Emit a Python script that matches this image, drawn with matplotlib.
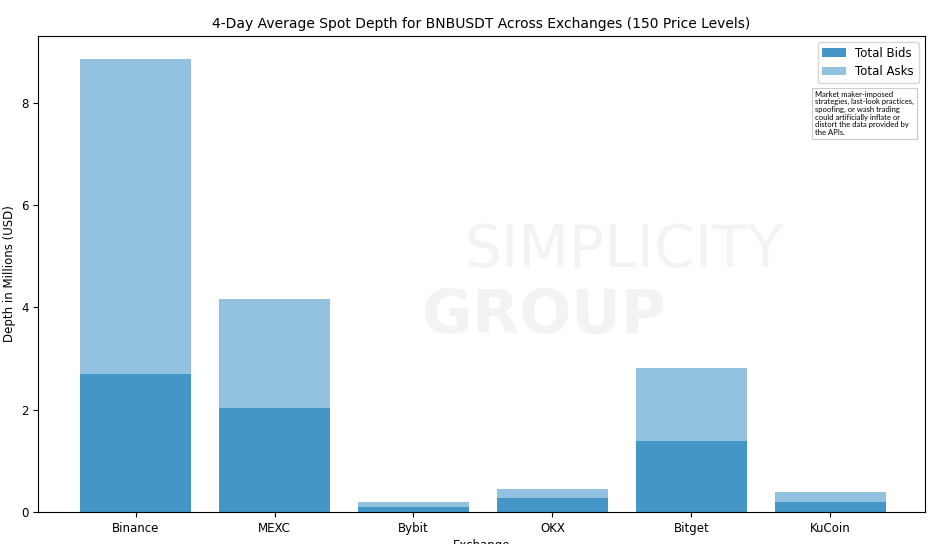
import matplotlib.pyplot as plt
import numpy as np

exchanges = ["Binance", "MEXC", "Bybit", "OKX", "Bitget", "KuCoin"]
bids = [2.70, 2.04, 0.10, 0.27, 1.39, 0.20]
asks = [6.16, 2.13, 0.10, 0.18, 1.43, 0.19]

plt.rcParams["font.size"] = 8.5

fig, ax = plt.subplots(figsize=(9.35, 5.44), dpi=100)
fig.subplots_adjust(left=0.041, right=0.989, top=0.934, bottom=0.059)

x = np.arange(len(exchanges))
ax.bar(x, bids, 0.8, color="#4396c6", label="Total Bids")
ax.bar(x, asks, 0.8, bottom=bids, color="#93c2e0", label="Total Asks")

ax.set_xticks(x)
ax.set_xticklabels(exchanges)
ax.set_xlim(-0.7, 5.68)
ax.set_ylim(0, 9.31)
ax.set_xlabel("Exchange", labelpad=3)
ax.set_ylabel("Depth in Millions (USD)")
ax.set_title("4-Day Average Spot Depth for BNBUSDT Across Exchanges (150 Price Levels)", fontsize=10)
ax.legend(loc="upper right")

# faint watermark
ax.text(0.66, 0.55, "SIMPLICITY", transform=ax.transAxes, fontsize=42,
        color="#e8ecef", alpha=0.6, ha="center", va="center", zorder=0)
ax.text(0.57, 0.41, "GROUP", transform=ax.transAxes, fontsize=44, fontweight="bold",
        color="#e8ecef", alpha=0.6, ha="center", va="center", zorder=0)

ax.text(0.876, 0.885, "Market maker-imposed\nstrategies, last-look practices,\n"
        "spoofing, or wash trading\ncould artificially inflate or\n"
        "distort the data provided by\nthe APIs.",
        transform=ax.transAxes, fontsize=5.5, family="Lato", va="top", ha="left",
        linespacing=1.1,
        bbox=dict(boxstyle="square,pad=0.4", fc="white", ec="#cccccc", lw=0.8))

fig.savefig("out.png")
